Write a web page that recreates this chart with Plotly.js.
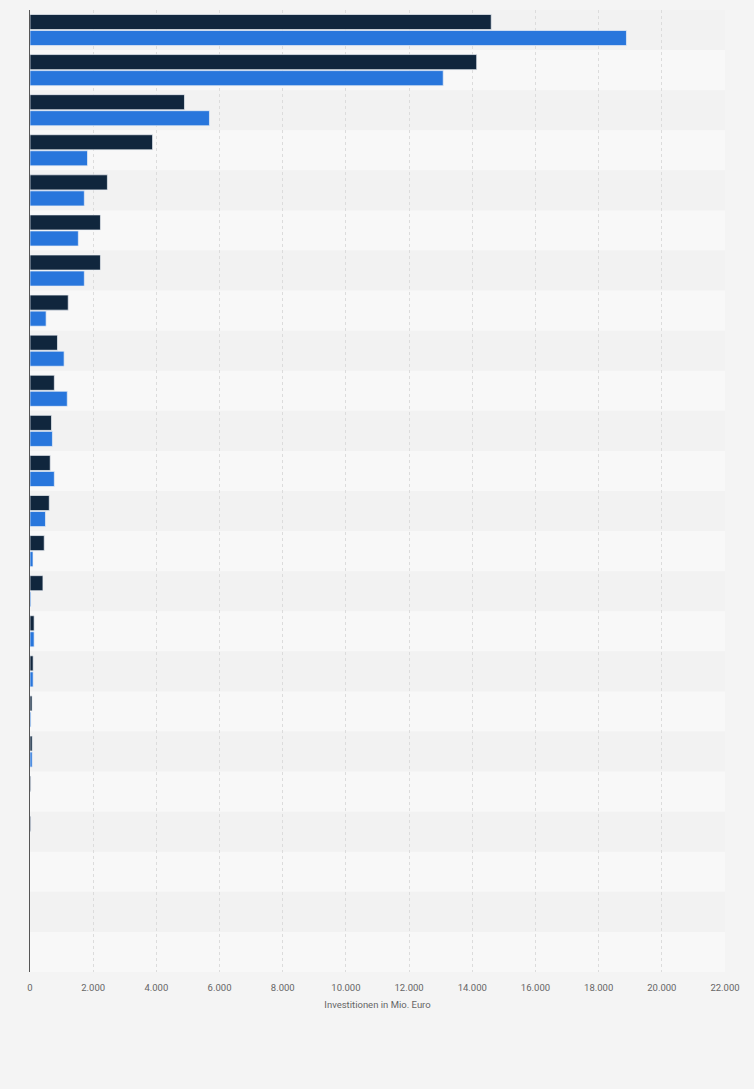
<!DOCTYPE html>
<html>
<head>
<meta charset="utf-8">
<script src="https://cdn.plot.ly/plotly-3.0.1.min.js"></script>
<style>
html,body{margin:0;padding:0;background:#f4f4f4;}
#chart{width:754px;height:1089px;}
</style>
</head>
<body>
<div id="chart"></div>
<script>
const categories = ["K1","K2","K3","K4","K5","K6","K7","K8","K9","K10","K11","K12",
  "K13","K14","K15","K16","K17","K18","K19","K20","K21","K22","K23","K24"];
const seriesA = [14600,14140,4890,3880,2450,2230,2230,1210,870,770,680,640,
  610,450,410,130,100,65,70,25,25,0,0,0];
const seriesB = [18880,13080,5680,1820,1720,1530,1720,510,1080,1180,710,770,
  490,95,30,130,100,30,70,0,0,0,0,0];
const seriesNames = ["Serie 1","Serie 2"];
const xTickVals = [0,2000,4000,6000,8000,10000,12000,14000,16000,18000,20000,22000];

const outline = v => v.map(x => x > 0 ? 1 : 0);

const traces = [
  {type:'bar', orientation:'h', y:categories, x:seriesA, name:seriesNames[0],
   marker:{color:'#10263d', line:{color:'rgba(235,240,245,0.7)', width:outline(seriesA)}}, hoverinfo:'x'},
  {type:'bar', orientation:'h', y:categories, x:seriesB, name:seriesNames[1],
   marker:{color:'#2876dc', line:{color:'rgba(235,240,245,0.7)', width:outline(seriesB)}}, hoverinfo:'x'}
];

const shapes = categories.map((c,i)=>({
  type:'rect', layer:'below', xref:'paper', yref:'y',
  x0:0, x1:1, y0:i-0.5, y1:i+0.5,
  fillcolor: i%2===0 ? '#f2f2f2' : '#f8f8f8', line:{width:0}
}));

const layout = {
  width:754, height:1089,
  margin:{l:30, r:29, t:10, b:117},
  paper_bgcolor:'#f4f4f4', plot_bgcolor:'#f4f4f4',
  separators:',.',
  barmode:'group', bargap:0.2, bargroupgap:0.06,
  showlegend:false,
  shapes:shapes,
  font:{family:'Roboto, "Liberation Sans", sans-serif', color:'#666'},
  xaxis:{
    range:[0,22000], tickvals:xTickVals, tickformat:',d',
    showgrid:true, gridcolor:'#dcdcdc', griddash:'dot', gridwidth:1,
    zeroline:false,
    tickfont:{size:9.5, color:'#666'}, ticks:'', ticklabelstandoff:8,
    title:{text:'Investitionen in Mio. Euro', font:{size:9.5, color:'#666'}, standoff:9},
    fixedrange:true
  },
  yaxis:{
    type:'category', autorange:'reversed', showticklabels:false, ticks:'',
    showgrid:false, zeroline:false, showline:true, linecolor:'#555', linewidth:1,
    layer:'above traces', fixedrange:true
  }
};

Plotly.newPlot('chart', traces, layout, {displayModeBar:false, staticPlot:true});
</script>
</body>
</html>
